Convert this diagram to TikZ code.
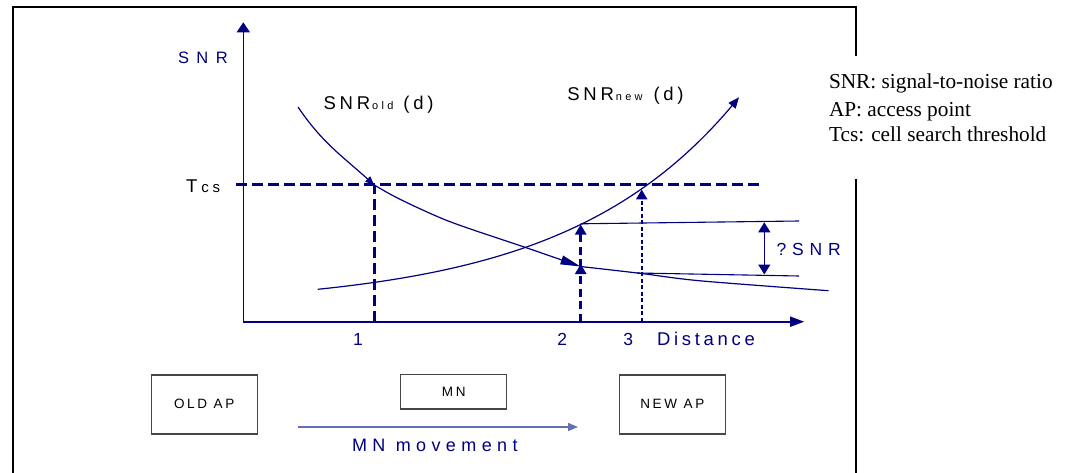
\documentclass[tikz,border=0pt]{standalone}
\usepackage{fontspec}
\setmainfont{Liberation Serif}
\newfontfamily\lsans{Liberation Sans}
\usetikzlibrary{arrows.meta}
\definecolor{navy}{RGB}{0,0,128}
\definecolor{lightnavy}{RGB}{100,110,185}
\definecolor{boxgray}{RGB}{70,70,70}
\newcommand{\vtxt}[3]{{\fontsize{#1}{#1}\lsans\addfontfeatures{LetterSpace=#2}#3}}
\tikzset{
  frameline/.style={draw=black, line width=2pt},
  axisline/.style={draw=navy, line width=1.6pt},
  curveline/.style={draw=navy, line width=1.2pt},
  thinline/.style={draw=navy, line width=1.1pt},
  bigdash/.style={draw=navy, line width=3pt, dash pattern=on 10.5pt off 5.5pt},
  middash/.style={draw=navy, line width=2.8pt, dash pattern=on 8pt off 4.5pt},
  smalldash/.style={draw=navy, line width=2.4pt, dash pattern=on 4pt off 2.5pt},
  tip/.style={-{Triangle[length=10pt,width=11pt]}},
  apbox/.style={draw=boxgray, line width=1.4pt, minimum width=106pt, minimum height=59pt, inner sep=0pt},
  mnbox/.style={draw=boxgray, line width=1.4pt, minimum width=106pt, minimum height=34.5pt, inner sep=0pt},
  lbl/.style={inner sep=0pt, outer sep=0pt},
  legend/.style={lbl, anchor=base west, font=\fontsize{21.3}{24}\selectfont},
}
\begin{document}
\begin{tikzpicture}[x=1pt,y=-1pt]
\useasboundingbox (0,0) rectangle (1073,473);
% frame
\draw[frameline] (13.3,473) -- (13.3,7.3) -- (855.5,7.3) -- (855.5,56);
\draw[frameline] (855.5,179) -- (855.5,473);
% legend
\node[legend] (leg1) at (829,89) {SNR: signal-to-noise ratio};
\node[legend] (leg2) at (829,117) {AP: access point};
\node[legend] (leg3) at (829,142) {Tcs: cell search threshold};
% axes
\coordinate (O) at (243.3,321.7);
\coordinate (ytop) at (243.3,22.3);
\coordinate (xend) at (804.2,321.7);
\draw[axisline, -{Triangle[length=10pt,width=13pt]}] (O) -- (ytop);
\draw[axisline, -{Triangle[length=14pt,width=10pt]}] (O) -- (xend);
% axis labels
\node[lbl, anchor=base west, text=navy] (snrlab) at (178,63.3) {\vtxt{16.5}{45}{SNR}};
\node[lbl, anchor=base west] (tcslab) at (186,193) {\vtxt{18.5}{0}{T}\kern4pt\vtxt{15}{25}{cs}};
\node[lbl, anchor=base, text=navy] (n1) at (358,345) {\vtxt{17.5}{0}{1}};
\node[lbl, anchor=base, text=navy] (n2) at (562.2,345) {\vtxt{17.5}{0}{2}};
\node[lbl, anchor=base, text=navy] (n3) at (628.3,345) {\vtxt{17.5}{0}{3}};
\node[lbl, anchor=base west, text=navy] (dist) at (657,345) {\vtxt{18.5}{20}{Distance}};
\node[lbl, anchor=base west] (oldlab) at (323.7,110) {\vtxt{18.5}{20}{SNR}\kern2pt\vtxt{11}{30}{old}\kern10pt\vtxt{18.5}{20}{(d)}};
\node[lbl, anchor=base west] (newlab) at (567.4,101) {\vtxt{18.5}{20}{SNR}\kern2pt\vtxt{11}{30}{new}\kern11pt\vtxt{18.5}{20}{(d)}};
% threshold and markers
\coordinate (tcsL) at (236,185);
\coordinate (tcsR) at (763,185);
\draw[bigdash] (tcsL) -- (tcsR);
\coordinate (p1b) at (374.3,321.7);
\coordinate (p1t) at (374.3,185);
\draw[bigdash] (p1b) -- (p1t);
% old curve
\coordinate (oA) at (298,107);
\coordinate (oB) at (374.3,185);
\coordinate (oC) at (580.5,266.5);
\coordinate (oD) at (828.5,290.7);
\draw[curveline, -{Triangle[length=9pt,width=7pt]}] (oA) to[out=-56,in=138] (oB);
\draw[curveline, -{Triangle[length=20pt,width=9pt]}] plot[smooth] coordinates {(oB) (400,199.3) (450,221.7) (523.3,246.7) (oC)};
\draw[curveline] plot[smooth] coordinates {(oC) (640,273.3) (700,280.8) (oD)};
% new curve
\draw[curveline, -{Triangle[length=11pt,width=9pt]}] plot[domain=317.7:739, samples=80] (\x, {321.7-15-17.4*exp(0.0059*(\x-317.7))});
% point 2 arrows
\coordinate (p2b) at (580.7,321.7);
\coordinate (p2m) at (580.7,264);
\coordinate (p2m2) at (580.7,267);
\coordinate (p2t) at (580.7,224.5);
\draw[middash, tip] (p2b) -- (p2m);
\draw[middash, tip] (p2m2) -- (p2t);
% point 3 arrow
\coordinate (p3b) at (641.7,321.7);
\coordinate (p3t) at (641.7,189.5);
\draw[smalldash, -{Triangle[length=10pt,width=11pt]}] (p3b) -- (p3t);
% delta SNR
\coordinate (uL) at (580.5,223.8);
\coordinate (uR) at (799,221);
\coordinate (lL) at (637,273);
\coordinate (lR) at (799,276);
\draw[thinline] (uL) -- (uR);
\draw[thinline] (lL) -- (lR);
\coordinate (dT) at (764.3,222.3);
\coordinate (dB) at (764.3,274.5);
\draw[thinline, line width=1.4pt, {Triangle[length=10pt,width=12pt]}-{Triangle[length=10pt,width=12pt]}] (dT) -- (dB);
\node[lbl, anchor=base west, text=navy] (dsnr) at (776.7,255) {\vtxt{17.5}{33}{?SNR}};
% boxes
\node[apbox] (oldap) at (204.2,404.3) {\vtxt{13.5}{20}{OLD AP}};
\node[mnbox] (mn) at (453.7,391.7) {\vtxt{13.5}{20}{MN}};
\node[apbox] (newap) at (672.3,404.3) {\vtxt{13.5}{20}{NEW AP}};
% movement
\coordinate (mvL) at (298,427);
\coordinate (mvR) at (578,427);
\draw[draw=lightnavy, line width=1.3pt, -{Triangle[length=10pt,width=8pt]}] (mvL) -- (mvR);
\node[lbl, anchor=base west, text=navy] (mvlab) at (352,451) {\vtxt{18}{30}{MN movement}};
\end{tikzpicture}
\end{document}
